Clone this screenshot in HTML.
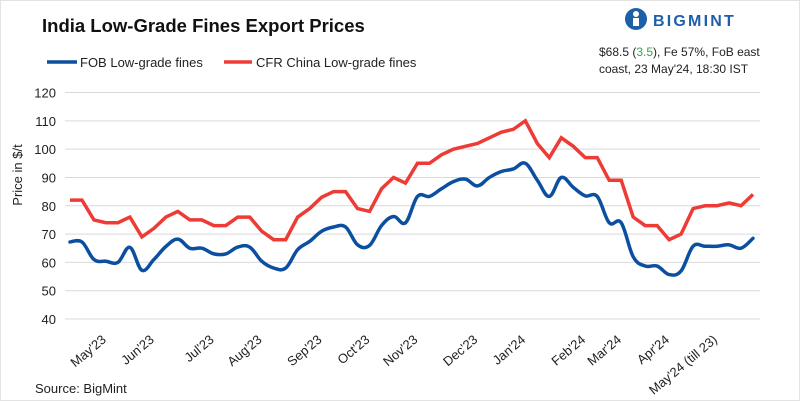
<!DOCTYPE html>
<html><head><meta charset="utf-8"><style>
body{margin:0;background:#fff;}
#wrap{position:relative;width:800px;height:401px;overflow:hidden;font-family:"Liberation Sans",sans-serif;}
</style></head><body>
<div id="wrap">
<svg id="chart" width="800" height="401" xmlns="http://www.w3.org/2000/svg">
<rect x="0.5" y="0.5" width="799" height="400" fill="#fff" stroke="#e3e3e3"/>
<text x="42" y="32" font-size="18.5" font-weight="bold" fill="#111">India Low-Grade Fines Export Prices</text>
<g>
<circle cx="636" cy="19" r="11" fill="#1f5fa8"/>
<circle cx="636" cy="14" r="3" fill="#fff"/>
<rect x="633" y="18" width="6" height="8" fill="#fff"/>
<text x="653" y="26" font-size="16" font-weight="bold" fill="#1f5fa8" letter-spacing="2.2">BIGMINT</text>
</g>
<text x="599" y="56" font-size="12" fill="#222">$68.5 (<tspan fill="#2eaa4a">3.5</tspan>), Fe 57%, FoB east</text>
<text x="599" y="73" font-size="12" fill="#222">coast, 23 May'24, 18:30 IST</text>
<g><line x1="47" y1="62" x2="77" y2="62" stroke="#0b4fa1" stroke-width="3.5"/><text x="80" y="67" font-size="13" fill="#222">FOB Low-grade fines</text></g>
<g><line x1="224" y1="62" x2="252" y2="62" stroke="#ee3b36" stroke-width="3.5"/><text x="256" y="67" font-size="13" fill="#222">CFR China Low-grade fines</text></g>
<text transform="translate(22,175) rotate(-90)" text-anchor="middle" font-size="13" fill="#222">Price in $/t</text>
<g id="grid"></g><g id="yticks"></g><g id="xlabels"></g><g id="series"></g>
<text x="35" y="393" font-size="13" fill="#222">Source: BigMint</text>
</svg>
</div>
<script>
const yTicks=[40,50,60,70,80,90,100,110,120];
const fob=[67.2,67.2,61,60.4,60,65.3,57.2,61,65.6,68.2,65,65,63,63,65.4,65.4,60.4,58,58,64.5,67.4,71,72.5,72.5,66.2,66,73,76.2,74,83.3,83.3,86,88.5,89.4,87,90,92.1,93,95,89,83.3,90,86.5,83.5,83.3,74,74,62,58.7,58.7,55.7,57,65.7,65.7,65.7,66.2,65,68.5];
const cfr=[82,82,75,74,74,76,69,72,76,78,75,75,73,73,76,76,71,68,68,76,79,83,85,85,79,78,86,90,88,95,95,98,100,101,102,104,106,107,110,102,97,104,101,97,97,89,89,76,73,73,68,70,79,80,80,81,80,84];
const monthLabels=["May'23","Jun'23","Jul'23","Aug'23","Sep'23","Oct'23","Nov'23","Dec'23","Jan'24","Feb'24","Mar'24","Apr'24","May'24 (till 23)"];
const monthIdx=[3,7,12,16,21,25,29,34,38,43,46,50,54];
const NS="http://www.w3.org/2000/svg";
const x=i=>70+i*(753-70)/57;
const y=v=>319-(v-40)*(319-92.5)/80;
function mk(t,a,p){const e=document.createElementNS(NS,t);for(const k in a)e.setAttribute(k,a[k]);p.appendChild(e);return e;}
const grid=document.getElementById('grid'),yt=document.getElementById('yticks'),xl=document.getElementById('xlabels'),se=document.getElementById('series');
yTicks.forEach(v=>{
 const l=mk('line',{x1:65,x2:760,y1:y(v),y2:y(v),stroke:'#d9d9d9','stroke-width':1},grid);
 
 
 const t=mk('text',{x:56,y:y(v)+5,'text-anchor':'end','font-size':13,fill:'#222'},yt);t.textContent=v;
 
 
});
monthLabels.forEach((m,k)=>{
 const px=x(monthIdx[k])+1;
 const t=mk('text',{transform:`translate(${px},341) rotate(-40)`,'text-anchor':'end','font-size':13,fill:'#222'},xl);t.textContent=m;
 
 
});
function smooth(vals){
 const p=vals.map((v,i)=>[x(i),y(v)]);let d=`M${p[0][0]},${p[0][1]}`;
 for(let i=0;i<p.length-1;i++){const p0=p[i-1]||p[i],p1=p[i],p2=p[i+1],p3=p[i+2]||p2;const t=0.18;
  d+=` C${p1[0]+(p2[0]-p0[0])*t},${p1[1]+(p2[1]-p0[1])*t} ${p2[0]-(p3[0]-p1[0])*t},${p2[1]-(p3[1]-p1[1])*t} ${p2[0]},${p2[1]}`;}
 return d;}
const r=mk('path',{d:'M'+cfr.map((v,i)=>x(i)+','+y(v)).join(' L'),fill:'none',stroke:'#ee3b36','stroke-width':3.5,'stroke-linejoin':'miter'},se);


const b=mk('path',{d:smooth(fob),fill:'none',stroke:'#0b4fa1','stroke-width':3.5,'stroke-linejoin':'round','stroke-linecap':'round'},se);


</script>
</body></html>
